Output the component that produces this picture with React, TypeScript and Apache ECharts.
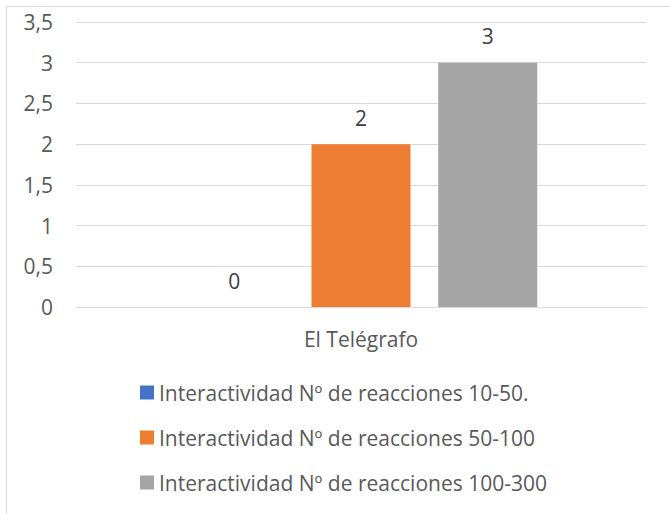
import React, { useEffect, useRef } from "react";
import * as echarts from "echarts";

const categories = ["El Telégrafo"];
const seriesNames = [
  "Interactividad Nº de reacciones 10-50.",
  "Interactividad Nº de reacciones 50-100",
  "Interactividad Nº de reacciones 100-300",
];
const values10_50 = [0];
const values50_100 = [2];
const values100_300 = [3];
const colors = ["#4472C4", "#ED7D31", "#A5A5A5"];

const FONT = "'Open Sans', sans-serif";
const FS = 21;

export default function App() {
  const ref = useRef<HTMLDivElement>(null);
  useEffect(() => {
    if (!ref.current) return;
    const chart = echarts.init(ref.current, undefined, { renderer: "svg" });
    const data = [values10_50, values50_100, values100_300];
    chart.setOption({
      animation: false,
      backgroundColor: "#ffffff",
      textStyle: { fontFamily: FONT },
      graphic: [
        {
          type: "rect",
          shape: { x: 6.5, y: 6.5, width: 700, height: 600 },
          style: { fill: "none", stroke: "#d9d9d9", lineWidth: 1 },
          silent: true,
        },
      ],
      grid: { left: 76, right: 24, top: 22, bottom: 207, containLabel: false },
      legend: {
        orient: "vertical",
        left: 140,
        top: 382,
        padding: 0,
        itemWidth: 14,
        itemHeight: 14,
        itemGap: 24,
        icon: "rect",
        textStyle: { fontSize: FS, lineHeight: 20, color: "#595959", fontFamily: FONT },
        data: seriesNames,
      },
      xAxis: {
        type: "category",
        data: categories,
        axisLine: { show: true, lineStyle: { color: "#d9d9d9" } },
        axisTick: { show: false },
        axisLabel: { fontSize: FS, color: "#595959", margin: 21, fontFamily: FONT },
      },
      yAxis: {
        type: "value",
        min: 0,
        max: 3.5,
        interval: 0.5,
        axisLine: { show: false },
        axisTick: { show: false },
        splitLine: { lineStyle: { color: "#d9d9d9", width: 1 } },
        axisLabel: {
          fontSize: FS,
          color: "#595959",
          margin: 23,
          fontFamily: FONT,
          formatter: (v: number) => String(v).replace(".", ","),
        },
      },
      series: seriesNames.map((name, i) => ({
        name,
        type: "bar",
        data: data[i],
        barWidth: 99,
        barGap: "28%",
        itemStyle: { color: colors[i] },
        label: {
          show: true,
          position: "top",
          distance: 16,
          fontSize: FS,
          color: "#404040",
          fontFamily: FONT,
        },
      })),
    });
    return () => chart.dispose();
  }, []);
  return (
    <div
      ref={ref}
      style={{ position: "fixed", left: 0, top: 0, width: 670, height: 514 }}
    />
  );
}
